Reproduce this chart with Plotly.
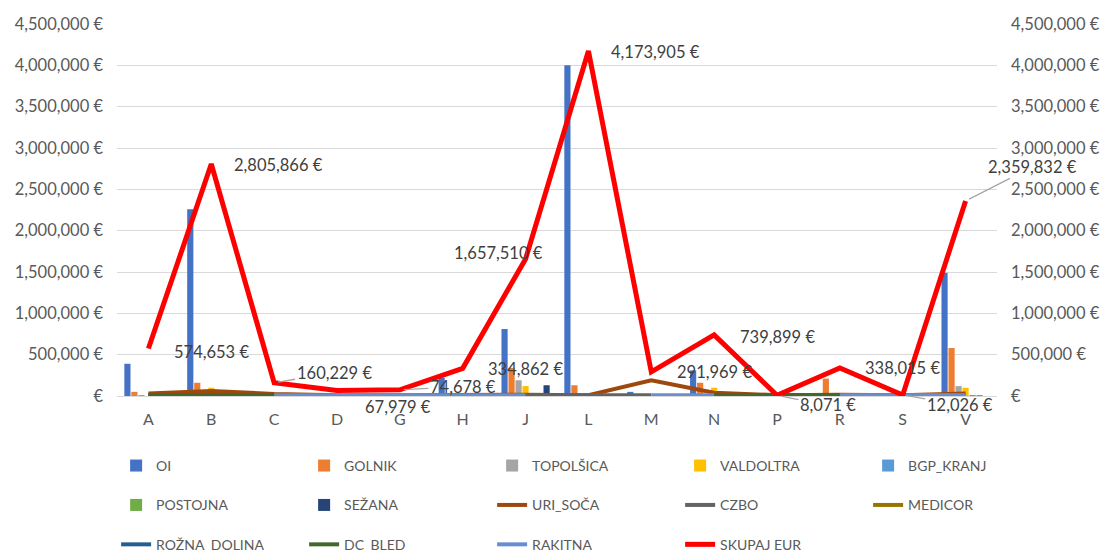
import plotly.graph_objects as go

categories = ["A", "B", "C", "D", "G", "H", "J", "L", "M", "N", "P", "R", "S", "V"]

# bar series
oi        = [390000, 2260000, 0, 0, 0, 220000, 810000, 4000000, 50000, 310000, 0, 20000, 0, 1490000]
golnik    = [50000, 160000, 0, 0, 0, 0, 340000, 130000, 0, 160000, 0, 210000, 0, 580000]
topolsica = [10000, 20000, 0, 0, 0, 0, 190000, 0, 0, 20000, 0, 0, 0, 120000]
valdoltra = [0, 100000, 0, 0, 0, 0, 120000, 0, 0, 100000, 0, 0, 0, 100000]
bgp_kranj = [0, 10000, 0, 0, 0, 0, 10000, 0, 0, 10000, 0, 0, 0, 10000]
postojna  = [0, 5000, 0, 0, 0, 0, 5000, 0, 0, 5000, 0, 0, 0, 5000]
sezana    = [0, 60000, 0, 0, 0, 0, 130000, 0, 0, 0, 0, 0, 0, 0]

# line series
uri_soca     = [30000, 60000, 25000, 10000, 10000, 15000, 15000, 10000, 190000, 40000, 10000, 15000, 10000, 30000]
czbo         = [None, None, None, None, None, None, 8000, 8000, 8000, None, None, None, None, None]
medicor      = [8000, 8000, 8000, None, None, None, None, None, None, None, None, 8000, 8000, 8000]
rozna_dolina = [8000, 8000, 8000, None, None, None, None, None, None, 8000, 8000, 8000, None, None]
dc_bled      = [10000, 10000, 10000, None, None, None, None, None, None, 10000, 10000, 10000, None, None]
rakitna      = [None, None, 10000, 10000, 10000, 10000, 10000, None, 10000, 10000, None, 10000, 10000, 10000]
skupaj       = [574653, 2805866, 160229, 67979, 74678, 334862, 1657510, 4173905, 291969, 739899, 8071, 338015, 12026, 2359832]
skupaj_labels = ["574,653 €", "2,805,866 €", "160,229 €", "67,979 €", "74,678 €", "334,862 €", "1,657,510 €",
                 "4,173,905 €", "291,969 €", "739,899 €", "8,071 €", "338,015 €", "12,026 €", "2,359,832 €"]

tick_vals = [0, 500000, 1000000, 1500000, 2000000, 2500000, 3000000, 3500000, 4000000, 4500000]
tick_text = ["€", "500,000 €", "1,000,000 €", "1,500,000 €", "2,000,000 €", "2,500,000 €",
             "3,000,000 €", "3,500,000 €", "4,000,000 €", "4,500,000 €"]

# label offsets (pixels) and leader flags
label_dx = [63, 67, 60, 61, 63, 63, -27, 67, 63, 63, 51, 63, 57, 67]
label_dy = [3, 1, -10, 17, -3, 1, -6, 1, 0, 2, 10, 0, 10, -34]
leader   = [False, False, True, False, True, False, False, False, False, False, True, False, True, True]

bars = [
    ("OI", oi, "#4472C4"),
    ("GOLNIK", golnik, "#ED7D31"),
    ("TOPOLŠICA", topolsica, "#A5A5A5"),
    ("VALDOLTRA", valdoltra, "#FFC000"),
    ("BGP_KRANJ", bgp_kranj, "#5B9BD5"),
    ("POSTOJNA", postojna, "#70AD47"),
    ("SEŽANA", sezana, "#264478"),
]
lines = [
    ("URI_SOČA", uri_soca, "#9E480E", 4),
    ("CZBO", czbo, "#636363", 4),
    ("MEDICOR", medicor, "#997300", 4),
    ("ROŽNA_DOLINA", rozna_dolina, "#255E91", 4),
    ("DC_BLED", dc_bled, "#43682B", 4),
    ("RAKITNA", rakitna, "#698ED0", 4),
    ("SKUPAJ EUR", skupaj, "#FF0000", 5),
]

fig = go.Figure()
for name, vals, col in bars:
    fig.add_trace(go.Bar(x=categories, y=vals, name=name + "<br> ", marker_color=col,
                         marker_line_width=0, yaxis="y"))
for name, vals, col, w in lines:
    fig.add_trace(go.Scatter(x=categories, y=vals, name=name + "<br> ", mode="lines",
                             line=dict(color=col, width=w), connectgaps=False, yaxis="y2"))

annotations = []
for c, v, t, dx, dy, ld in zip(categories, skupaj, skupaj_labels, label_dx, label_dy, leader):
    annotations.append(dict(
        x=c, y=v, xref="x", yref="y2", text=t, showarrow=True,
        ax=dx, ay=dy, arrowhead=0, arrowwidth=1.3, standoff=4,
        arrowcolor="#A6A6A6" if ld else "rgba(0,0,0,0)",
        font=dict(family="Lato", size=16.5, color="#404040"),
    ))

axis_common = dict(range=[0, 4500000], tickvals=tick_vals, ticktext=tick_text,
                   tickfont=dict(family="Lato", size=16.5, color="#595959"),
                   ticklabelstandoff=13, zeroline=False, fixedrange=True)

fig.update_layout(
    width=1101, height=543,
    margin=dict(l=109, r=112, t=16, b=155, autoexpand=False),
    paper_bgcolor="white", plot_bgcolor="white",
    barmode="group", bargap=0.22, bargroupgap=0.12,
    font=dict(family="Lato", color="#595959"),
    xaxis=dict(type="category", range=[-0.5, len(categories) - 0.5], autorange=False,
               showgrid=False, showline=True, linecolor="#D9D9D9", linewidth=1,
               tickfont=dict(family="Lato", size=16, color="#595959"), ticklabelstandoff=9),
    yaxis=dict(showgrid=True, gridcolor="#D9D9D9", gridwidth=1, side="left", **axis_common),
    yaxis2=dict(overlaying="y", side="right", showgrid=False, **axis_common),
    legend=dict(orientation="h", x=-0.001, xanchor="left", y=-0.145, yanchor="top",
                entrywidth=143, entrywidthmode="pixels", valign="top",
                font=dict(family="Lato", size=14, color="#595959"), traceorder="normal"),
    annotations=annotations,
    showlegend=True,
)

fig.write_html("out.html")
